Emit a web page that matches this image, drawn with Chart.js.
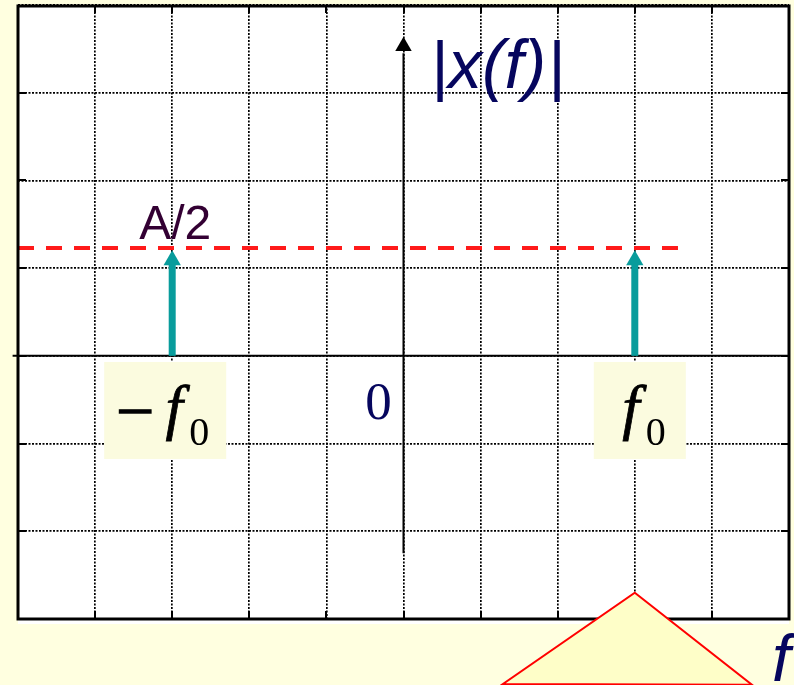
<!DOCTYPE html>
<html>
<head>
<meta charset="utf-8">
<script src="https://cdn.jsdelivr.net/npm/chart.js@4"></script>
<style>
  html, body { margin: 0; padding: 0; background: #ffffe0; }
  #wrap { width: 794px; height: 685px; position: relative; }
</style>
</head>
<body>
<div id="wrap"><canvas id="spectrum"></canvas></div>
<script>
// Grid ticks (frequency axis / magnitude axis)
const xTicks = [-5, -4, -3, -2, -1, 0, 1, 2, 3, 4, 5];
const yTicks = [-3, -2, -1, 0, 1, 2, 3, 4];

// Two spectral lines at -f0 and +f0
const lineFreqs = [-3, 3];
const lineTops = [1.05, 1.05];      // end of the arrow shaft
const headCenters = [1.09, 1.09];   // centre of the arrow head
const lineLabels = ['\u2212f', 'f'];

// Dashed A/2 level
const halfLevel = 1.23;
const halfLevelSpan = [-5, 3.56];

// Vertical |x(f)| axis with its arrow head
const yAxisSpan = [-2.25, 3.45];
const yAxisHead = 3.53;

// Callout triangle at the bottom of the slide
const calloutX = [3, 4.52, 1.29];
const calloutY = [-2.7, -3.75, -3.74];

// Colours
const teal = '#089c9c';
const navy = '#06065e';
const bgYellow = '#ffffe0';
const boxYellow = '#fbfbdf';

// Background, frame, ticks, labels and callout
const overlayPlugin = {
  id: 'overlay',
  beforeDraw(chart) {
    const { ctx, chartArea: a } = chart;
    ctx.save();
    ctx.fillStyle = bgYellow;
    ctx.fillRect(0, 0, chart.width, chart.height);
    ctx.fillStyle = '#fff';
    ctx.fillRect(a.left, a.top, a.right - a.left, a.bottom - a.top + 5);
    ctx.restore();
  },
  beforeDatasetsDraw(chart) {
    const { ctx, scales } = chart;
    const xs = scales.x;
    ctx.save();
    // label boxes sit on top of the grid
    lineFreqs.forEach((f, i) => {
      const px = xs.getPixelForValue(f);
      ctx.fillStyle = boxYellow;
      if (i === 0) ctx.fillRect(px - 68, 362, 122, 97);
      else ctx.fillRect(px - 41, 362, 92, 97);
    });
    ctx.restore();
  },
  afterDatasetsDraw(chart) {
    const { ctx, chartArea: a, scales } = chart;
    const xs = scales.x, ys = scales.y;
    ctx.save();
    ctx.strokeStyle = '#000';
    ctx.lineWidth = 2;
    ctx.beginPath();
    xTicks.slice(1, -1).forEach(v => {
      const px = Math.round(xs.getPixelForValue(v));
      ctx.moveTo(px, a.top); ctx.lineTo(px, a.top + 8);
      ctx.moveTo(px, a.bottom); ctx.lineTo(px, a.bottom - 8);
    });
    yTicks.slice(1, -1).forEach(v => {
      const py = Math.round(ys.getPixelForValue(v));
      ctx.moveTo(a.left, py); ctx.lineTo(a.left + 8, py);
      ctx.moveTo(a.right, py); ctx.lineTo(a.right - 8, py);
    });
    ctx.stroke();
    ctx.lineWidth = 3;
    ctx.strokeRect(a.left, a.top + 1, a.right - a.left, a.bottom - a.top - 1);
    ctx.restore();
  },
  afterDraw(chart) {
    const { ctx, scales } = chart;
    const xs = scales.x, ys = scales.y;
    ctx.save();
    ctx.textBaseline = 'alphabetic';
    ctx.textAlign = 'center';

    // |x(f)| axis title
    ctx.fillStyle = navy;
    ctx.font = '66px "Liberation Sans"';
    ctx.fillText('|', 440, 88);
    ctx.fillText('|', 557, 88);
    ctx.font = 'italic 68px "Liberation Sans"';
    ctx.fillText('x(f)', 497, 88);

    // A/2 level label
    ctx.fillStyle = '#330033';
    ctx.font = '48px "Liberation Sans"';
    ctx.fillText('A/2', xs.getPixelForValue(lineFreqs[0]) + 3, 239);

    // origin label
    ctx.fillStyle = navy;
    ctx.font = '53px "Liberation Serif"';
    ctx.fillText('0', xs.getPixelForValue(0) - 25, 419);

    // -f0 and f0 labels
    ctx.fillStyle = '#000';
    ctx.strokeStyle = '#000';
    lineFreqs.forEach((f, i) => {
      const px = xs.getPixelForValue(f);
      const txt = lineLabels[i];
      let cx = px;
      if (txt.length > 1) {
        ctx.font = '68px "Liberation Serif"';
        ctx.lineWidth = 1.2;
        ctx.fillText(txt[0], px - 37, 434);
        ctx.strokeText(txt[0], px - 37, 434);
        cx = px + 2;
      } else {
        cx = px - 4;
      }
      ctx.font = 'italic 62px "Liberation Serif"';
      ctx.lineWidth = 0.8;
      ctx.fillText('f', cx, 428);
      ctx.strokeText('f', cx, 428);
      ctx.font = '40px "Liberation Serif"';
      ctx.fillText('0', cx + 25, 445);
    });

    // callout triangle
    ctx.beginPath();
    calloutX.forEach((v, i) => {
      const px = xs.getPixelForValue(v), py = ys.getPixelForValue(calloutY[i]);
      if (i === 0) ctx.moveTo(px, py); else ctx.lineTo(px, py);
    });
    ctx.closePath();
    ctx.fillStyle = '#fefec8';
    ctx.fill();
    ctx.strokeStyle = '#ff0000';
    ctx.lineWidth = 2;
    ctx.stroke();

    // f at the bottom right
    ctx.fillStyle = navy;
    ctx.textAlign = 'left';
    ctx.font = 'italic 66px "Liberation Sans"';
    ctx.fillText('f', 772, 681);
    ctx.restore();
  }
};

const datasets = [];

// arrow heads of the spectral lines
datasets.push({
  data: lineFreqs.map((f, i) => ({ x: f, y: headCenters[i] })),
  showLine: false,
  pointStyle: 'triangle',
  pointRadius: 10,
  pointBackgroundColor: teal,
  pointBorderWidth: 0
});

// arrow shafts
lineFreqs.forEach((f, i) => {
  datasets.push({
    data: [{ x: f, y: 0 }, { x: f, y: lineTops[i] }],
    showLine: true,
    borderColor: teal,
    borderWidth: 7,
    borderCapStyle: 'butt',
    pointRadius: 0
  });
});

// dashed A/2 level
datasets.push({
  data: halfLevelSpan.map(x => ({ x, y: halfLevel })),
  showLine: true,
  borderColor: '#ff1a1a',
  borderWidth: 4,
  borderDash: [16, 12],
  pointRadius: 0
});

// vertical axis head
datasets.push({
  data: [{ x: 0, y: yAxisHead }],
  showLine: false,
  pointStyle: 'triangle',
  pointRadius: 9.5,
  pointBackgroundColor: '#000',
  pointBorderWidth: 0
});

// vertical axis
datasets.push({
  data: yAxisSpan.map(y => ({ x: 0, y })),
  showLine: true,
  borderColor: '#000',
  borderWidth: 2,
  pointRadius: 0
});

// frequency axis (solid, across the whole frame)
datasets.push({
  data: [{ x: -5.07, y: 0 }, { x: 5, y: 0 }],
  showLine: true,
  borderColor: '#000',
  borderWidth: 2,
  pointRadius: 0,
  clip: false
});

new Chart(document.getElementById('spectrum'), {
  type: 'scatter',
  data: { datasets },
  options: {
    responsive: true,
    maintainAspectRatio: false,
    animation: false,
    events: [],
    layout: { autoPadding: false, padding: { left: 18, top: 5, right: 5, bottom: 66 } },
    plugins: { legend: { display: false }, tooltip: { enabled: false } },
    scales: {
      x: {
        type: 'linear',
        min: xTicks[0],
        max: xTicks[xTicks.length - 1],
        afterBuildTicks: s => { s.ticks = xTicks.map(v => ({ value: v })); },
        ticks: { display: false },
        grid: { color: '#000', lineWidth: 1.7, drawTicks: false },
        border: { display: false, dash: [2, 1.5] }
      },
      y: {
        type: 'linear',
        min: yTicks[0],
        max: yTicks[yTicks.length - 1],
        afterBuildTicks: s => { s.ticks = yTicks.map(v => ({ value: v })); },
        ticks: { display: false },
        grid: { color: '#000', lineWidth: 1.7, drawTicks: false },
        border: { display: false, dash: [2, 1.5] }
      }
    }
  },
  plugins: [overlayPlugin]
});
</script>
</body>
</html>
